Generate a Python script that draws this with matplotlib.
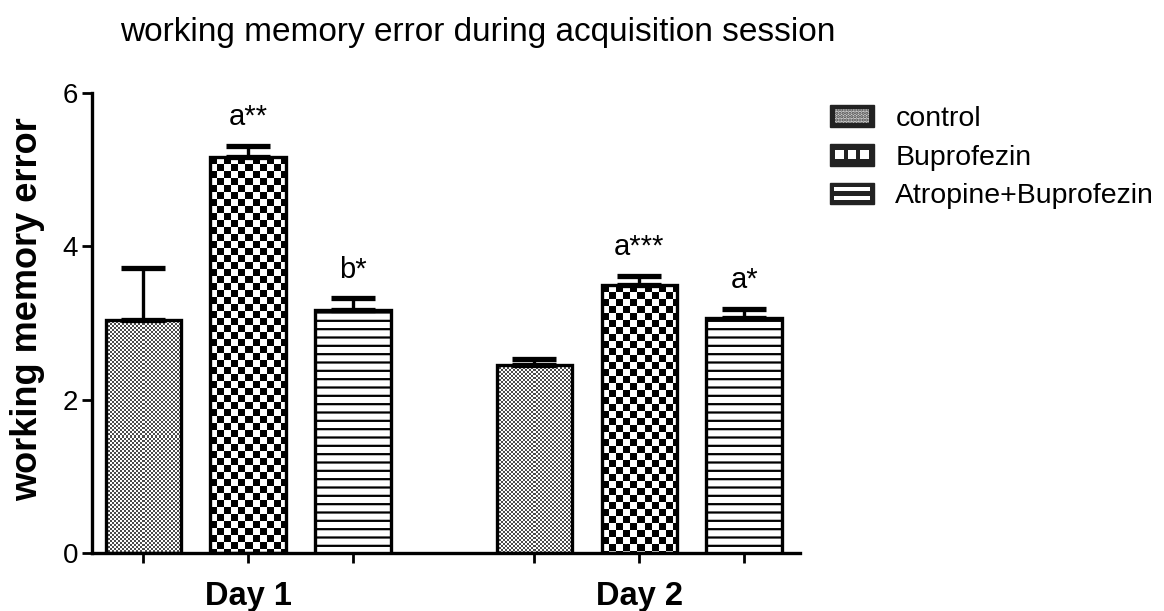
import numpy as np
import matplotlib
matplotlib.use('Agg')
import matplotlib.pyplot as plt
from matplotlib.patches import Rectangle, Patch
from matplotlib.legend_handler import HandlerBase

plt.rcParams['font.family'] = 'Liberation Sans'
plt.rcParams['hatch.linewidth'] = 1.6

# data
days = ['Day 1', 'Day 2']
groups = ['control', 'Buprofezin', 'Atropine+Buprofezin']
control = [3.04, 2.45]
control_sem = [0.68, 0.08]
buprofezin = [5.16, 3.49]
buprofezin_sem = [0.15, 0.12]
atropine_bup = [3.17, 3.06]
atropine_bup_sem = [0.15, 0.12]
sig_bup = ['a**', 'a***']
sig_atr = ['b*', 'a*']

fig = plt.figure(figsize=(11.64, 6.11), dpi=100)
ax = fig.add_axes([0.079, 0.095, 0.608, 0.753])
ax.set_xlim(-0.49, 6.26)
ax.set_ylim(0, 6)

day_pos = np.array([1.0, 4.73])
width = 0.72

# pixels per data unit, used to make the bar textures
px = 0.608 * 1164 / (6.26 + 0.49)
py = 0.753 * 611 / 6


def checker(h_px, w_px, cell, lo):
    i, j = np.indices((max(h_px, 1), max(w_px, 1)))
    return np.where(((i // cell) + (j // cell)) % 2 == 0, lo, 1.0)


series = [(control, control_sem, (2, 0.3)),
          (buprofezin, buprofezin_sem, (7, 0.0)),
          (atropine_bup, atropine_bup_sem, None)]

for k, (vals, sem, pattern) in enumerate(series):
    xs = day_pos + (k - 1)
    if pattern is None:
        bars = ax.bar(xs, vals, width, facecolor='white', edgecolor='black',
                      linewidth=2.4, hatch='--', zorder=3)
    else:
        bars = ax.bar(xs, vals, width, facecolor='none', edgecolor='black',
                      linewidth=2.4, zorder=3)
        for b in bars:
            x0, w, h = b.get_x(), b.get_width(), b.get_height()
            img = checker(int(round(h * py)), int(round(w * px)), *pattern)
            im = ax.imshow(img, cmap='gray', vmin=0, vmax=1,
                           extent=(x0, x0 + w, 0, h), aspect='auto',
                           interpolation='nearest', zorder=2)
            im.set_clip_path(b)
    ax.errorbar(xs, vals, yerr=[np.zeros(len(vals)), sem], fmt='none',
                ecolor='black', elinewidth=2.4, capsize=16, capthick=3.8, zorder=4)

for k, (vals, sem, labs) in enumerate([(buprofezin, buprofezin_sem, sig_bup),
                                        (atropine_bup, atropine_bup_sem, sig_atr)]):
    xs = day_pos + k
    for x, v, s, lab in zip(xs, vals, sem, labs):
        ax.annotate(lab, (x, v + s), xytext=(0, 15), textcoords='offset points',
                    ha='center', va='baseline', fontsize=21)

ax.set_xlim(-0.49, 6.26)
ax.set_ylim(0, 6)

ax.spines[['top', 'right']].set_visible(False)
for sp in ['left', 'bottom']:
    ax.spines[sp].set_linewidth(2.4)

ticks = np.sort(np.concatenate([day_pos - 1, day_pos, day_pos + 1]))
tick_labels = ['', days[0], '', '', days[1], '']
ax.set_xticks(ticks, tick_labels)
for lbl in ax.get_xticklabels():
    lbl.set_fontweight('bold')
ax.set_yticks([0, 2, 4, 6])
ax.tick_params(axis='y', length=7, width=2, labelsize=20, pad=3)
ax.tick_params(axis='x', length=7, width=2, labelsize=23.5, pad=13)

ax.set_ylabel('working memory error', fontsize=26, fontweight='bold')
ax.yaxis.set_label_coords(-0.066, 0.53)

fig.text(0.103, 0.946, 'working memory error during acquisition session',
         fontsize=24, ha='left', va='center')


class HandlerSwatch(HandlerBase):
    def __init__(self, holes, fill='white', hatch=None):
        super().__init__()
        self.holes = holes
        self.fill = fill
        self.hatch = hatch

    def create_artists(self, legend, orig_handle, xdescent, ydescent,
                       width, height, fontsize, trans):
        x0, y0 = -xdescent, -ydescent
        arts = [Rectangle((x0, y0), width, height, facecolor='#222222',
                          edgecolor='#222222', lw=1, transform=trans)]
        for fx, fy, fw, fh in self.holes:
            arts.append(Rectangle((x0 + fx * width, y0 + fy * height),
                                  fw * width, fh * height, facecolor=self.fill,
                                  edgecolor='#444444', lw=0, hatch=self.hatch,
                                  transform=trans))
        return arts


handles = [Patch(label=g) for g in groups]
handler_map = {
    handles[0]: HandlerSwatch([(0.12, 0.2, 0.76, 0.6)], fill='#d0d0d0', hatch='.....'),
    handles[1]: HandlerSwatch([(0.12, 0.3, 0.2, 0.4), (0.40, 0.3, 0.2, 0.4),
                               (0.68, 0.3, 0.2, 0.4)]),
    handles[2]: HandlerSwatch([(0.1, 0.22, 0.8, 0.18), (0.1, 0.6, 0.8, 0.18)]),
}
fig.legend(handles, groups, handler_map=handler_map, loc='upper left',
           bbox_to_anchor=(0.713, 0.828), frameon=False, fontsize=20.5,
           handlelength=1.55, handleheight=0.8, handletextpad=0.75,
           labelspacing=0.42, borderpad=0, borderaxespad=0)

fig.savefig('out.png', dpi=100)
